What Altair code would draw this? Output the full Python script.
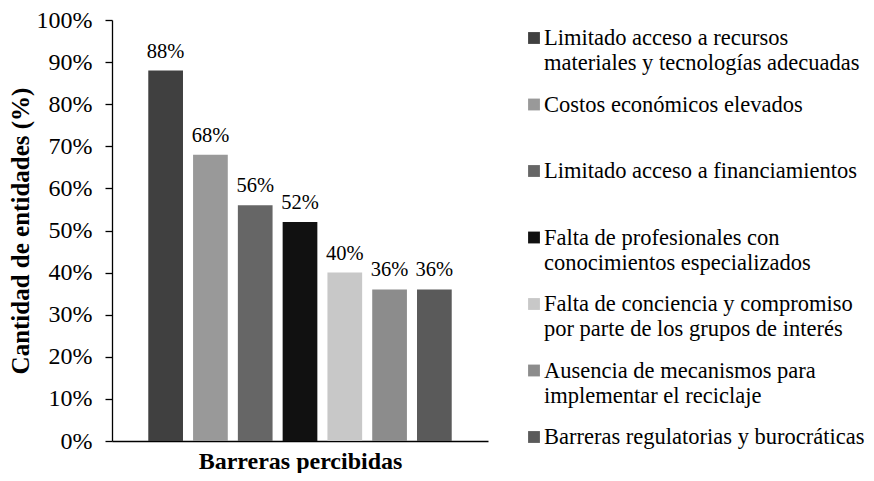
import altair as alt
import pandas as pd

categories = [
    "Limitado acceso a recursos\nmateriales y tecnologías adecuadas",
    "Costos económicos elevados",
    "Limitado acceso a financiamientos",
    "Falta de profesionales con\nconocimientos especializados",
    "Falta de conciencia y compromiso\npor parte de los grupos de interés",
    "Ausencia de mecanismos para\nimplementar el reciclaje",
    "Barreras regulatorias y burocráticas",
]
values = [88, 68, 56, 52, 40, 36, 36]
colors = ["#404040", "#999999", "#666666", "#111111", "#c8c8c8", "#8c8c8c", "#5a5a5a"]
y_ticks = [0, 0.1, 0.2, 0.3, 0.4, 0.5, 0.6, 0.7, 0.8, 0.9, 1.0]

df = pd.DataFrame({
    "id": list(range(len(categories))),
    "cat": categories,
    "val": [v / 100 for v in values],
})

FONT = "Liberation Serif"
color_scale = alt.Scale(domain=list(range(len(categories))), range=colors)

base = alt.Chart(df)

bars = base.mark_bar().encode(
    x=alt.X("id:O",
            scale=alt.Scale(paddingInner=0.225, paddingOuter=0.81),
            axis=alt.Axis(title="Barreras percibidas", labels=False, ticks=False,
                          domainColor="black", domainWidth=1.3,
                          titleFont=FONT, titleFontSize=24, titleFontWeight="bold",
                          titleColor="black", titlePadding=8)),
    y=alt.Y("val:Q",
            scale=alt.Scale(domain=[0, 1]),
            axis=alt.Axis(title="Cantidad de entidades (%)", values=y_ticks, format=".0%",
                          grid=False, tickSize=7, tickColor="black", tickWidth=1.3,
                          domainColor="black", domainWidth=1.3,
                          labelFont=FONT, labelFontSize=24, labelColor="black",
                          labelPadding=13,
                          titleFont=FONT, titleFontSize=25, titleFontWeight="bold",
                          titleColor="black", titlePadding=3)),
    color=alt.Color("id:O", scale=color_scale, legend=None),
)

labels = base.mark_text(font=FONT, fontSize=20.5, color="black",
                        baseline="alphabetic", dy=-13).encode(
    x=alt.X("id:O"),
    y=alt.Y("val:Q"),
    text=alt.Text("val:Q", format=".0%"),
)

left = (bars + labels).properties(width=376, height=421)

legend_y = alt.Y("id:O", axis=None,
                 scale=alt.Scale(type="point", padding=0, range=[18, 417]))

squares = base.mark_square(size=140, opacity=1).encode(
    x=alt.value(6),
    y=legend_y,
    color=alt.Color("id:O", scale=color_scale, legend=None),
)
texts = base.mark_text(align="left", baseline="middle", lineBreak="\n", lineHeight=25,
                       font=FONT, fontSize=22.5, color="black").encode(
    x=alt.value(16),
    y=legend_y,
    text="cat:N",
)
right = (squares + texts).properties(width=330, height=421)

chart = alt.hconcat(left, right, spacing=40).properties(
    padding={"left": 0, "top": 0, "right": 0, "bottom": 0},
    background="white",
).configure_view(stroke=None)

chart.save("out.html", embed_options={"renderer": "svg", "actions": False})
